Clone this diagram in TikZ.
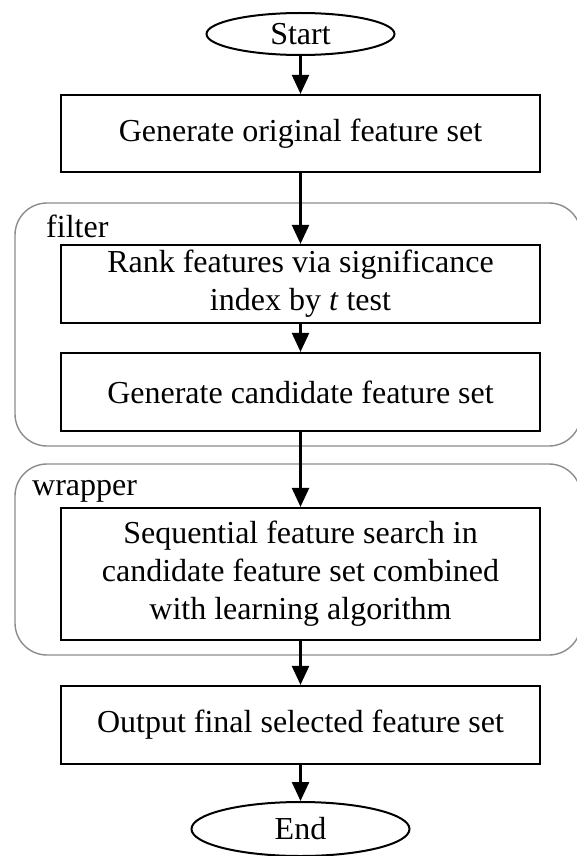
\documentclass[tikz,border=0pt]{standalone}
\usepackage{fontspec}
\setmainfont{Liberation Serif}
\usepackage{tikz}
\usetikzlibrary{arrows.meta, positioning, shapes.geometric}
\definecolor{groupgray}{HTML}{8C8C8C}

\begin{document}
\begin{tikzpicture}[
    x=1pt, y=-1pt,
    box/.style={draw, line width=2.2pt, minimum width=479pt, minimum height=78pt, inner sep=0pt, align=center, font=\fontsize{32}{38}\selectfont},
    term/.style={draw, ellipse, line width=2pt, inner sep=0pt, font=\fontsize{32}{38}\selectfont},
    group/.style={draw=groupgray, line width=1.4pt, rounded corners=32pt},
    grouplabel/.style={anchor=base west, inner sep=0pt, font=\fontsize{32}{38}\selectfont},
    arrow/.style={-{Triangle[length=19pt, width=17pt]}, line width=2.4pt},
]
    \useasboundingbox (0,0) rectangle (576,856);

    % Filter and wrapper stages
    \draw[group] (15,203) rectangle (581,446);
    \node[grouplabel] (filterlbl) at (46,237) {filter};
    \draw[group] (15,464) rectangle (581,655);
    \node[grouplabel] (wrapperlbl) at (32,495) {wrapper};

    % Steps
    \node[term, minimum width=188pt, minimum height=42pt] (start) at (300.5,34) {Start};
    \node[box, minimum height=77pt] (orig) at (300.5,133.5) {Generate original feature set};
    \node[box] (rank) at (300.5,284) {Rank features via significance\\index by \textit{t} test};
    \node[box] (cand) at (300.5,392) {Generate candidate feature set};
    \node[box, minimum height=132pt] (search) at (300.5,574) {Sequential feature search in\\candidate feature set combined\\with learning algorithm};
    \node[box] (output) at (300.5,725) {Output final selected feature set};
    \node[term, minimum width=218pt, minimum height=54pt] (end) at (300.5,829) {End};

    % Arrows
    \draw[arrow] (start) -- (orig);
    \draw[arrow] (orig) -- (rank);
    \draw[arrow] (rank) -- (cand);
    \draw[arrow] (cand) -- (search);
    \draw[arrow] (search) -- (output);
    \draw[arrow] (output) -- (end);

\end{tikzpicture}
\end{document}
